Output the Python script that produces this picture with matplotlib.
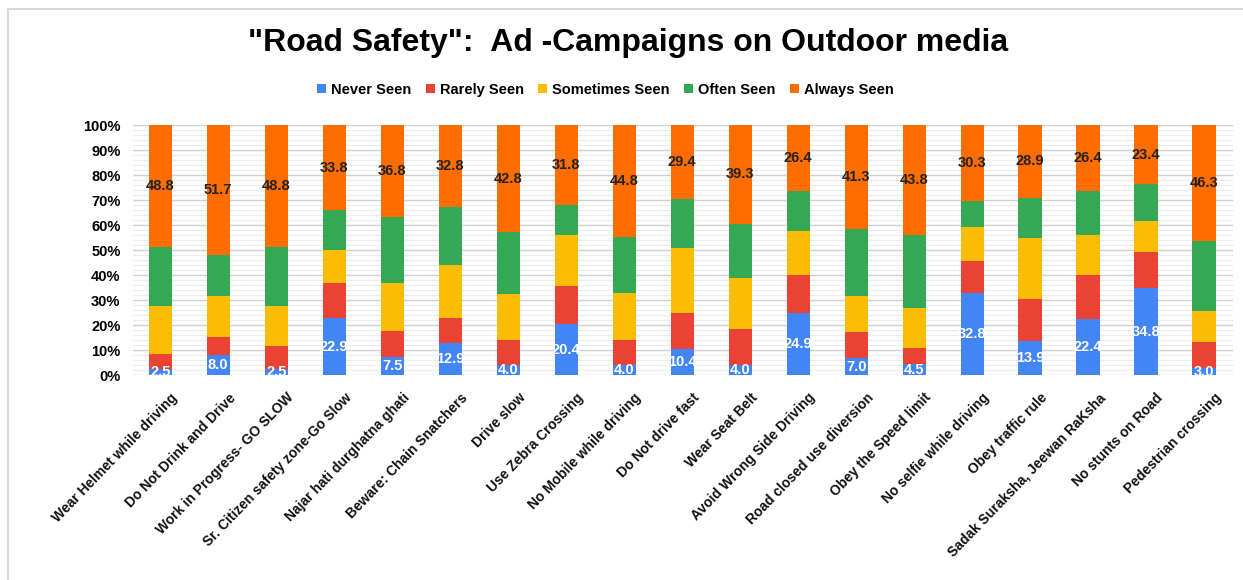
import matplotlib.pyplot as plt
import matplotlib.transforms as mtransforms
import numpy as np
from matplotlib.patches import Rectangle

plt.rcParams['font.family'] = ['Liberation Sans', 'DejaVu Sans']

campaigns = ["Wear Helmet while driving", "Do Not Drink and Drive", "Work in Progress- GO SLOW",
             "Sr. Citizen safety zone-Go Slow", "Najar hati durghatna ghati", "Beware: Chain Snatchers",
             "Drive slow", "Use Zebra Crossing", "No Mobile while driving", "Do Not drive fast",
             "Wear Seat Belt", "Avoid Wrong Side Driving", "Road closed use diversion",
             "Obey the Speed limit", "No selfie while driving", "Obey traffic rule",
             "Sadak Suraksha, Jeewan RaKsha", "No stunts on Road", "Pedestrian crossing"]

never = [2.5, 8.0, 2.5, 22.9, 7.5, 12.9, 4.0, 20.4, 4.0, 10.4, 4.0, 24.9, 7.0, 4.5, 32.8, 13.9, 22.4, 34.8, 3.0]
rarely = [5.9, 7.2, 9.3, 14.1, 10.3, 10.2, 10.0, 15.2, 10.0, 14.5, 14.7, 15.3, 10.4, 6.3, 12.8, 16.8, 17.8, 14.5, 10.4]
sometimes = [19.4, 16.5, 16.0, 13.0, 19.1, 21.2, 18.4, 20.5, 18.8, 25.9, 20.2, 17.4, 14.2, 16.1, 13.6, 24.1, 15.9, 12.3, 12.4]
often = [23.4, 16.6, 23.4, 16.2, 26.3, 22.9, 24.8, 12.1, 22.4, 19.8, 21.8, 16.0, 27.1, 29.3, 10.5, 16.3, 17.5, 15.0, 27.9]
always = [48.8, 51.7, 48.8, 33.8, 36.8, 32.8, 42.8, 31.8, 44.8, 29.4, 39.3, 26.4, 41.3, 43.8, 30.3, 28.9, 26.4, 23.4, 46.3]

series = [("Never Seen", never, "#4285F4"),
          ("Rarely Seen", rarely, "#EA4335"),
          ("Sometimes Seen", sometimes, "#FBBC04"),
          ("Often Seen", often, "#34A853"),
          ("Always Seen", always, "#FF6D01")]

fig = plt.figure(figsize=(12.43, 5.8), dpi=100)
ax = fig.add_axes([0.107, 0.353, 0.885, 0.431])

x = np.arange(len(campaigns))
bottom = np.zeros(len(campaigns))
containers = []
for name, vals, col in series:
    vals = np.array(vals)
    bars = ax.bar(x, vals, 0.4, bottom=bottom, color=col, label=name, zorder=3)
    containers.append(bars)
    bottom = bottom + vals

# value labels: never seen in white, always seen in black
for t in ax.bar_label(containers[0], labels=["%.1f" % v for v in never], label_type='center',
                      color='white', fontsize=10.5, fontweight='bold'):
    t.set_clip_on(True)
    t.set_zorder(4)
for t in ax.bar_label(containers[4], labels=["%.1f" % v for v in always], label_type='center',
                      color='#222222', fontsize=10.5, fontweight='bold'):
    t.set_zorder(4)

ax.set_xlim(-0.47, 18.5)
ax.set_ylim(0, 100)
ax.set_yticks(np.arange(0, 101, 10))
ax.set_yticklabels(["%d%%" % v for v in range(0, 101, 10)], fontsize=10.5, fontweight='bold')
ax.set_yticks(np.arange(0, 101, 2), minor=True)
ax.grid(axis='y', which='major', color='#d0d0d0', lw=1, zorder=0)
ax.grid(axis='y', which='minor', color='#ececec', lw=0.8, zorder=0)
ax.tick_params(axis='y', which='both', length=0, pad=9)
ax.set_xticks(x)
ax.set_xticklabels(campaigns, rotation=46, ha='right', rotation_mode='anchor',
                   fontsize=10, fontweight='bold', color='#111111')
ax.tick_params(axis='x', length=0, pad=11)
shift = mtransforms.ScaledTranslation(10 / 100, 0, fig.dpi_scale_trans)
for lab in ax.get_xticklabels():
    lab.set_transform(lab.get_transform() + shift)
for s in ax.spines.values():
    s.set_visible(False)

fig.text(0.5055, 1 - 51 / 580, '"Road Safety":  Ad -Campaigns on Outdoor media', ha='center',
         va='baseline', fontsize=23, fontweight='bold')
fig.legend(loc='center', bbox_to_anchor=(0.487, 0.845), ncol=5, frameon=False,
           prop={'weight': 'bold', 'size': 10.5}, handlelength=0.6, handleheight=0.6,
           handletextpad=0.35, columnspacing=1.0)

fig.add_artist(Rectangle((8 / 1243, -0.01), 1.0, 571 / 580 + 0.01, transform=fig.transFigure,
                         fill=False, edgecolor='#d9d9d9', lw=1.5))

fig.savefig("out.png", dpi=100)
